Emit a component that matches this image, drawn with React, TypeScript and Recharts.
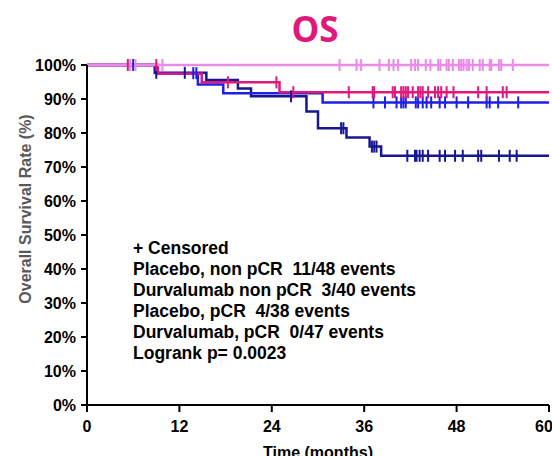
import {
  ComposedChart,
  Line,
  Scatter,
  XAxis,
  YAxis,
} from "recharts";

// Kaplan-Meier steps (months, survival %)
const navyTimes = [0, 8.8, 15.5, 19.6, 21.3, 28.5, 30.0, 33.7, 36.7, 38.2, 60];
const navySurv = [100, 97.7, 95.6, 93.1, 90.8, 86.3, 81.4, 78.7, 76.0, 73.3, 73.3];
const blueTimes = [0, 9.0, 14.4, 17.7, 30.6, 60];
const blueSurv = [100, 97.6, 94.3, 91.7, 89.0, 89.0];
const magentaTimes = [0, 9.2, 14.9, 25.0, 60];
const magentaSurv = [100, 97.4, 94.9, 92.0, 92.0];
const violetTimes = [0, 60];
const violetSurv = [100, 100];

// censored times
const navyCens = [9.0, 12.7, 26.5, 33.0, 33.3, 37.0, 37.3, 37.6, 41.6, 42.6, 42.8, 43.2, 43.6, 44.3, 45.8, 46.5, 47.8, 48.8, 50.8, 51.2, 53.5, 54.9, 55.8];
const blueCens = [6.0, 13.8, 14.2, 37.2, 38.7, 40.2, 40.8, 41.1, 41.4, 42.7, 43.0, 43.6, 44.1, 44.7, 45.8, 46.5, 48.0, 49.5, 51.9, 52.3, 53.4, 56.0];
const magentaCens = [5.3, 9.0, 18.3, 24.6, 26.8, 34.0, 37.1, 37.3, 39.7, 40.0, 40.8, 41.1, 41.4, 41.7, 42.3, 43.0, 43.3, 43.6, 44.3, 45.2, 45.6, 46.0, 46.7, 47.6, 50.8, 51.9, 54.0, 54.5];
const violetCens = [5.6, 6.3, 9.8, 32.8, 35.0, 35.6, 38.0, 39.2, 39.8, 40.4, 42.1, 42.6, 43.0, 44.0, 44.6, 45.6, 45.9, 46.7, 47.0, 47.5, 48.3, 48.6, 48.9, 49.3, 49.6, 50.1, 51.0, 51.4, 52.3, 52.5, 53.5, 53.8, 55.3];

const xTicks = [0, 12, 24, 36, 48, 60];
const yTicks = [0, 10, 20, 30, 40, 50, 60, 70, 80, 90, 100];
const legendLines = [
  "+ Censored",
  "Placebo, non pCR  11/48 events",
  "Durvalumab non pCR  3/40 events",
  "Placebo, pCR  4/38 events",
  "Durvalumab, pCR  0/47 events",
  "Logrank p= 0.0023",
];

const NAVY = "#17178f";
const BLUE = "#1f1fe6";
const MAGENTA = "#e0187c";
const VIOLET = "#ec8aea";

function steps(times: number[], surv: number[]) {
  return times.map((t, i) => ({ t, s: surv[i] }));
}

function censored(cens: number[], times: number[], surv: number[]) {
  return cens.map((t) => {
    let s = surv[0];
    for (let i = 0; i < times.length; i++) if (times[i] <= t) s = surv[i];
    return { t, s };
  });
}

function tickMark(color: string) {
  return (props: any) => {
    const { cx, cy } = props;
    return (
      <line x1={cx} x2={cx} y1={cy - 6} y2={cy + 6} stroke={color} strokeWidth={2} />
    );
  };
}

const groups = [
  { key: "navy", color: NAVY, times: navyTimes, surv: navySurv, cens: navyCens },
  { key: "blue", color: BLUE, times: blueTimes, surv: blueSurv, cens: blueCens },
  { key: "magenta", color: MAGENTA, times: magentaTimes, surv: magentaSurv, cens: magentaCens },
  { key: "violet", color: VIOLET, times: violetTimes, surv: violetSurv, cens: violetCens },
];

const FONT = "'Liberation Sans', Arial, sans-serif";
const tickStyle = {
  fill: "#000",
  fontSize: 16,
  fontWeight: "bold",
  fontFamily: FONT,
};

export default function App() {
  return (
    <div
      style={{
        position: "absolute",
        left: 0,
        top: 0,
        width: 552,
        height: 456,
        background: "#fff",
        overflow: "hidden",
        fontFamily: FONT,
      }}
    >
      <div
        style={{
          position: "absolute",
          left: 265,
          width: 100,
          top: 8,
          textAlign: "center",
          fontFamily: "'Open Sans', sans-serif",
          fontWeight: "bold",
          fontSize: 35,
          lineHeight: "42px",
          color: MAGENTA,
        }}
      >
        OS
      </div>
      <div
        style={{
          position: "absolute",
          left: 26,
          top: 209,
          transform: "translate(-50%, -50%) rotate(-90deg)",
          whiteSpace: "nowrap",
          fontSize: 16,
          fontWeight: "bold",
          color: "#595959",
        }}
      >
        Overall Survival Rate (%)
      </div>
      <ComposedChart
        width={552}
        height={456}
        margin={{ top: 65, right: 3, bottom: 0, left: 0 }}
      >
        <XAxis
          dataKey="t"
          type="number"
          domain={[0, 60]}
          ticks={xTicks}
          allowDataOverflow
          height={51}
          tickSize={7}
          tickMargin={9}
          tick={tickStyle}
          axisLine={{ stroke: "#000", strokeWidth: 2 }}
          tickLine={{ stroke: "#000", strokeWidth: 2 }}
        />
        <YAxis
          dataKey="s"
          type="number"
          domain={[0, 100]}
          ticks={yTicks}
          width={87}
          tickSize={6}
          tickMargin={5}
          tickFormatter={(v) => `${v}%`}
          tick={tickStyle}
          axisLine={{ stroke: "#000", strokeWidth: 2 }}
          tickLine={{ stroke: "#000", strokeWidth: 2 }}
        />
        {groups.map((g) => (
          <Line
            key={g.key + "-line"}
            data={steps(g.times, g.surv)}
            dataKey="s"
            type="stepAfter"
            stroke={g.color}
            strokeWidth={2.5}
            dot={false}
            isAnimationActive={false}
          />
        ))}
        {groups.map((g) => (
          <Scatter
            key={g.key + "-cens"}
            data={censored(g.cens, g.times, g.surv)}
            dataKey="s"
            shape={tickMark(g.color)}
            isAnimationActive={false}
          />
        ))}
      </ComposedChart>
      <div
        style={{
          position: "absolute",
          left: 218,
          width: 200,
          top: 444,
          textAlign: "center",
          fontSize: 16,
          fontWeight: "bold",
          lineHeight: "18px",
          color: "#000",
          whiteSpace: "nowrap",
        }}
      >
        Time (months)
      </div>
      <div
        style={{
          position: "absolute",
          left: 133,
          top: 238,
          fontSize: 17.5,
          fontWeight: "bold",
          lineHeight: "21px",
          color: "#000",
          whiteSpace: "pre",
        }}
      >
        {legendLines.map((l) => (
          <div key={l}>{l}</div>
        ))}
      </div>
    </div>
  );
}
